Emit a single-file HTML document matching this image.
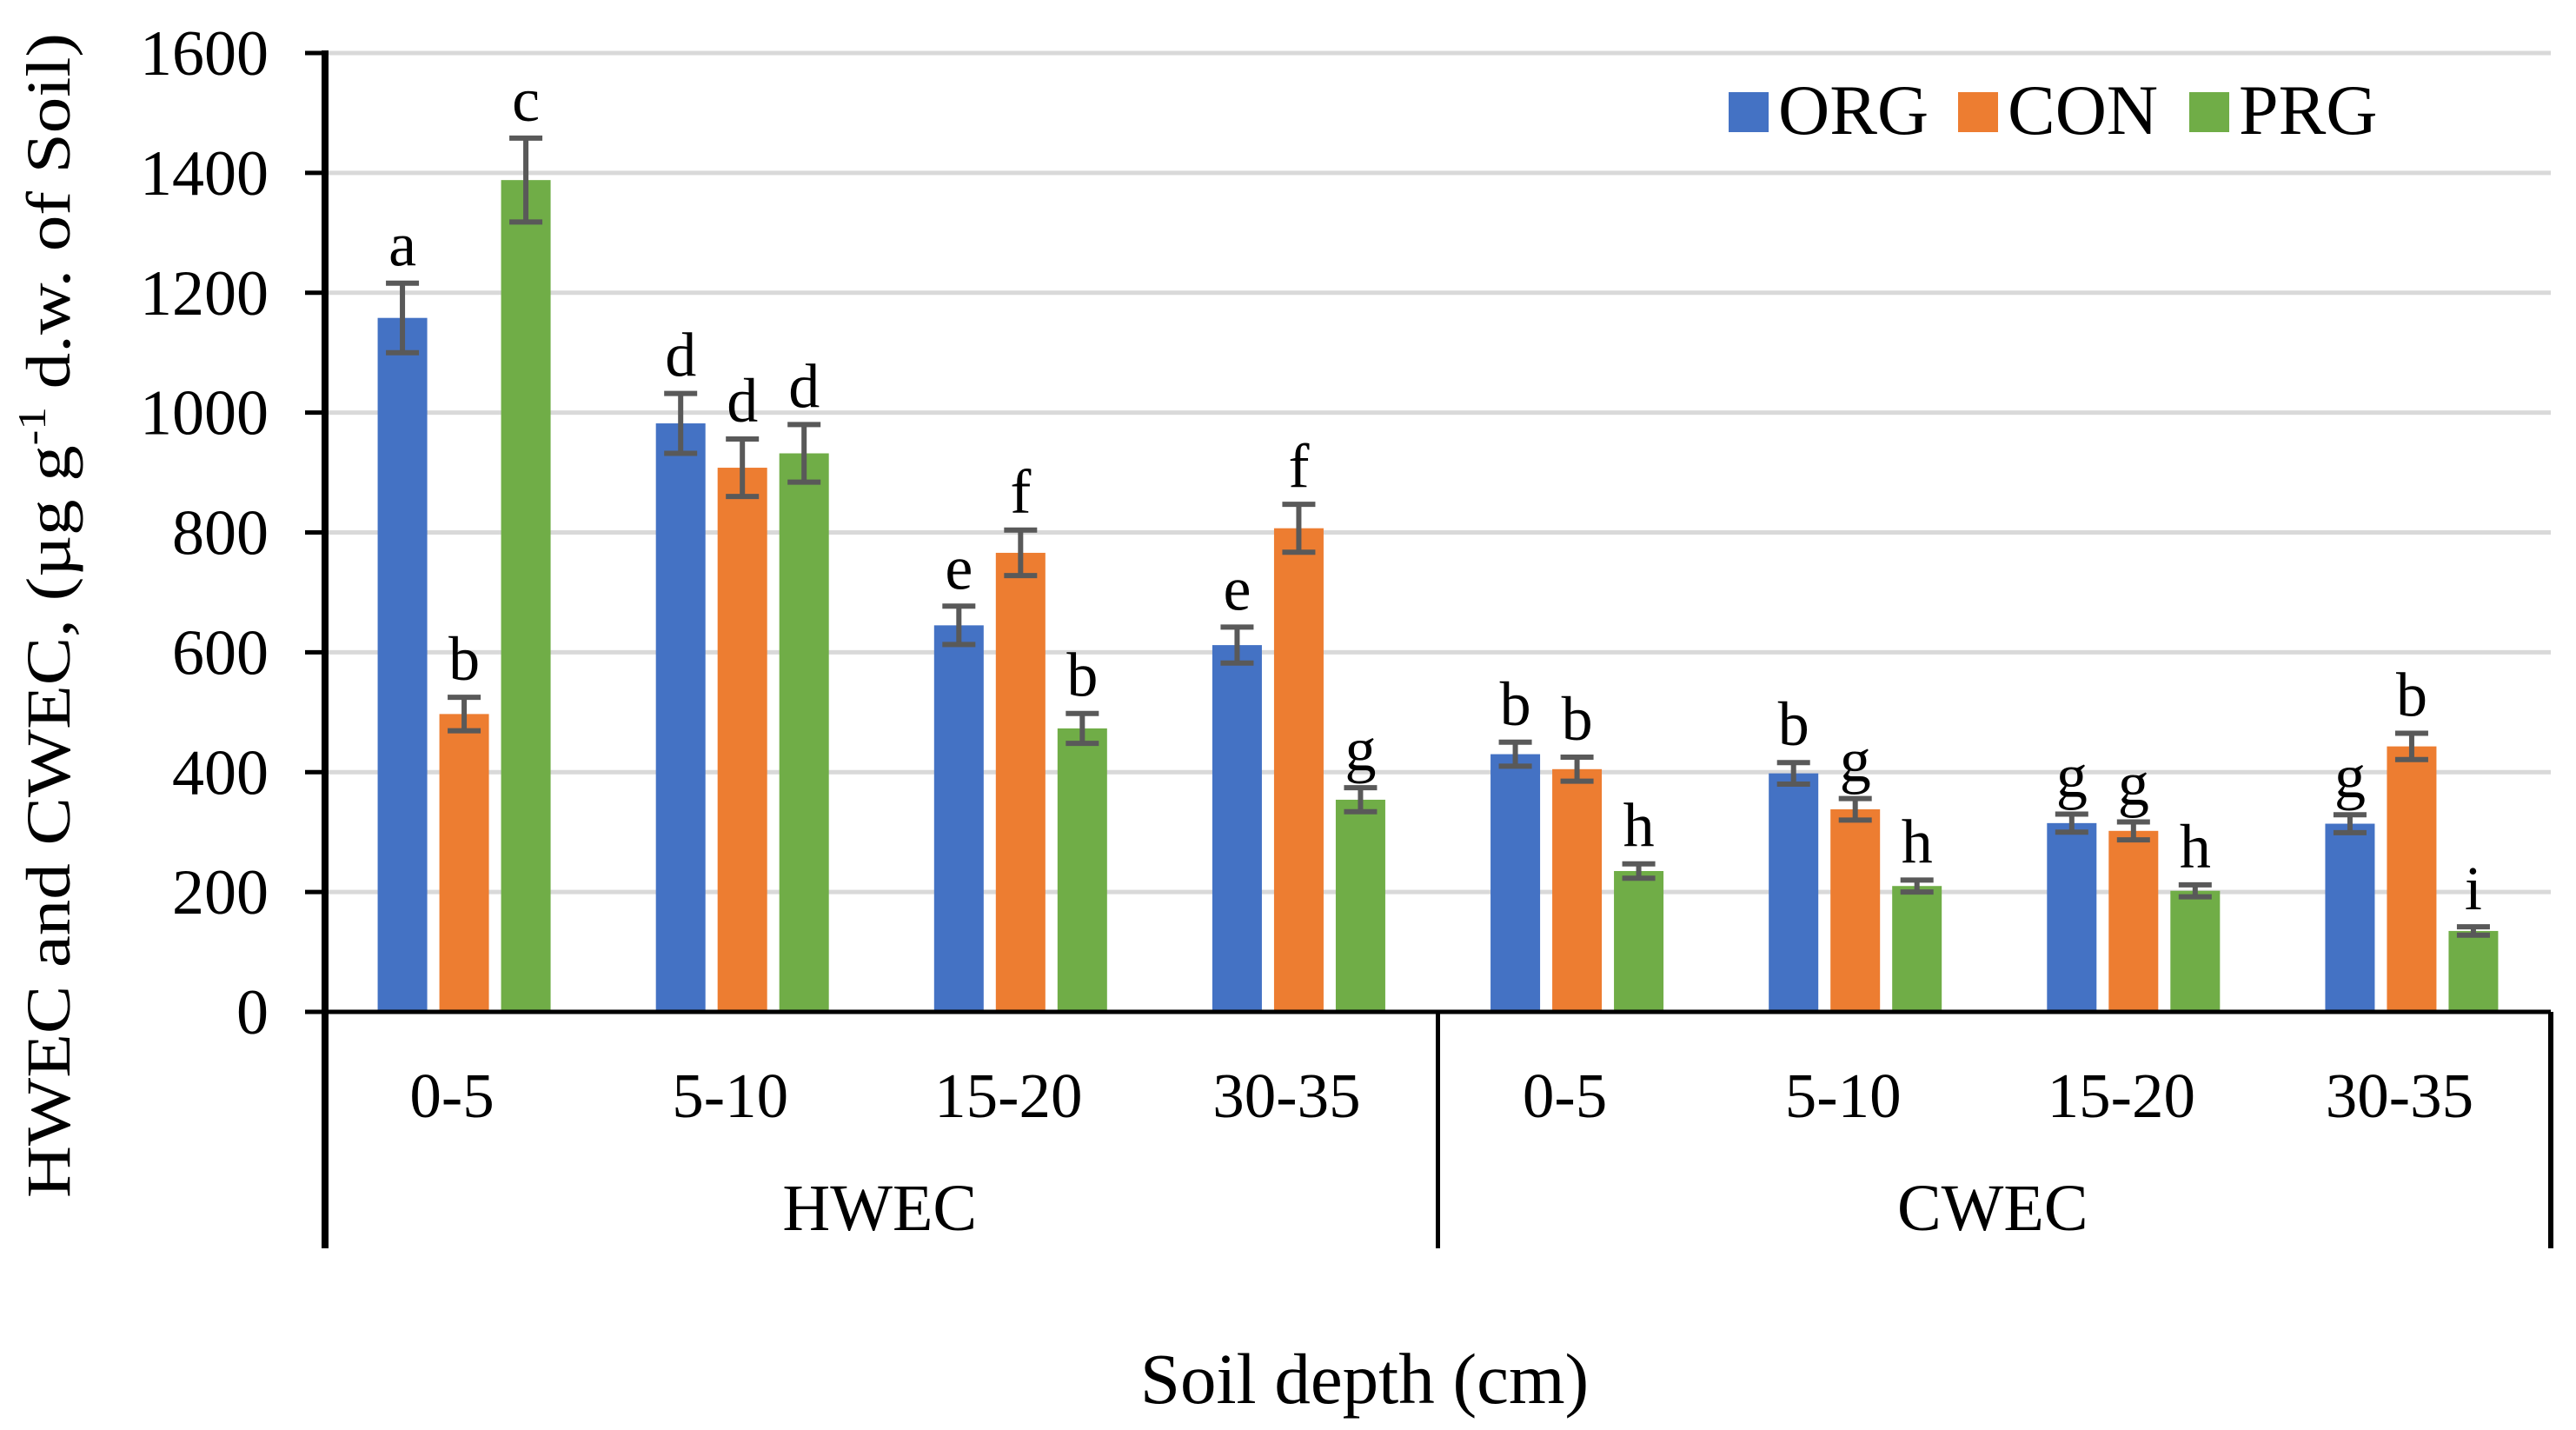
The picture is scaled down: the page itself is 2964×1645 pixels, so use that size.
<!DOCTYPE html>
<html><head><meta charset="utf-8"><style>
html,body{margin:0;padding:0;background:#fff;}
svg{display:block;font-family:"Liberation Serif",serif;}
</style></head><body>
<svg id="chart" width="2964" height="1645" viewBox="0 0 2964 1645"></svg>
<script>
const depths = ["0-5","5-10","15-20","30-35","0-5","5-10","15-20","30-35"];
const groups = ["HWEC","CWEC"];
const seriesNames = ["ORG","CON","PRG"];
const orgValues = [1158,982,645,612,430,398,315,314];
const conValues = [497,908,766,807,405,338,302,443];
const prgValues = [1388,932,473,354,235,210,202,135];
const orgErr = [58,50,32,30,20,18,15,15];
const conErr = [28,48,38,40,20,18,15,22];
const prgErr = [70,48,25,20,12,10,10,7];
const orgLetters = ["a","d","e","e","b","b","g","g"];
const conLetters = ["b","d","f","f","b","g","g","b"];
const prgLetters = ["c","d","b","g","h","h","h","i"];
const yTicks = [0,200,400,600,800,1000,1200,1400,1600];

const colors = ["#4472C4","#ED7D31","#70AD47"];
const NS = "http://www.w3.org/2000/svg";
const svg = document.getElementById("chart");
const X0 = 374, X1 = 2935, Y0 = 1164, Y1 = 61, YMAX = 1600;
const catW = (X1 - X0) / depths.length;
const barW = 57, gap = 14;
function y(v){ return Y0 - (v / YMAX) * (Y0 - Y1); }
function xc(i){ return X0 + catW * (i + 0.5); }
function mk(tag, attrs, parent){
  const e = document.createElementNS(NS, tag);
  for (const k in attrs) e.setAttribute(k, attrs[k]);
  (parent || svg).appendChild(e);
  return e;
}
yTicks.forEach(t => {
  if (t > 0) {
    const g = mk("line", {x1:X0, x2:X1, y1:y(t), y2:y(t), stroke:"#d9d9d9", "stroke-width":5});
    
    
  }
  const tk = mk("line", {x1:351, x2:X0, y1:y(t), y2:y(t), stroke:"#000", "stroke-width":5});
  
  
  const lb = mk("text", {x:309, y:y(t)+25, "text-anchor":"end", "font-size":74});
  lb.textContent = t;
  
  
});
const vals = [orgValues, conValues, prgValues];
const errs = [orgErr, conErr, prgErr];
const lets = [orgLetters, conLetters, prgLetters];
depths.forEach((d, i) => {
  for (let s = 0; s < 3; s++) {
    const cx = xc(i) + (s - 1) * (barW + gap);
    const v = vals[s][i], e = errs[s][i];
    const r = mk("rect", {x:cx - barW/2, y:y(v), width:barW, height:Y0 - y(v), fill:colors[s]});
    
    
    const eg = mk("g", {stroke:"#595959", "stroke-width":6});
    
    
    mk("line", {x1:cx, x2:cx, y1:y(v+e), y2:y(v-e)}, eg);
    mk("line", {x1:cx-19, x2:cx+19, y1:y(v+e), y2:y(v+e)}, eg);
    mk("line", {x1:cx-19, x2:cx+19, y1:y(v-e), y2:y(v-e)}, eg);
    const t = mk("text", {x:cx, y:y(v+e) - 20, "text-anchor":"middle", "font-size":72});
    t.textContent = lets[s][i];
    
    
  }
  const cl = mk("text", {x:xc(i) - 14, y:1285, "text-anchor":"middle", "font-size":73});
  cl.textContent = d;
  
  
});
const xa = mk("line", {x1:X0, x2:X1, y1:Y0, y2:Y0, stroke:"#000", "stroke-width":5});


const ya = mk("line", {x1:X0, x2:X0, y1:Y1-3, y2:1436, stroke:"#000", "stroke-width":8});


const dv = mk("line", {x1:(X0+X1)/2, x2:(X0+X1)/2, y1:Y0, y2:1436, stroke:"#000", "stroke-width":5});


const re = mk("line", {x1:X1, x2:X1, y1:Y0, y2:1436, stroke:"#000", "stroke-width":6});


groups.forEach((g, gi) => {
  const t = mk("text", {x:X0 + (X1-X0)*(gi*2+1)/4 - 2, y:1415, "text-anchor":"middle", "font-size":76});
  t.textContent = g;
  
  
});
const legX = [1989, 2253, 2519];
seriesNames.forEach((n, s) => {
  const lg = mk("g", {});
  
  
  mk("rect", {x:legX[s], y:106, width:46, height:46, fill:colors[s]}, lg);
  const t = mk("text", {x:legX[s] + 57, y:154, "font-size":82}, lg);
  t.textContent = n;
});
</script>
<div style="position:absolute;left:0;top:0;">
<svg width="2964" height="1645" style="position:absolute;left:0;top:0;pointer-events:none">
<text x="1570" y="1614" text-anchor="middle" font-size="83" font-family="Liberation Serif, serif">Soil depth (cm)</text>
<text transform="translate(80,708) rotate(-90)" text-anchor="middle" font-size="72" font-family="Liberation Serif, serif" textLength="1340" lengthAdjust="spacingAndGlyphs">HWEC and CWEC, (µg g<tspan dy="-28" font-size="46">-1</tspan><tspan dy="28"> d.w. of Soil)</tspan></text>
</svg>
</div>
</body></html>
